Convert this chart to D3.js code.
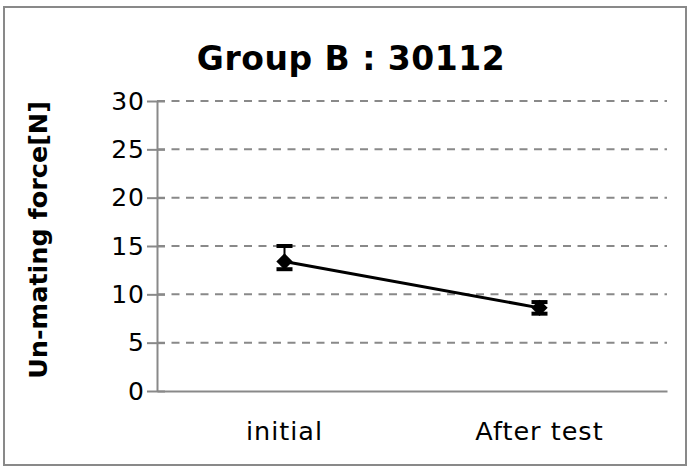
<!DOCTYPE html>
<html>
<head>
<meta charset="utf-8">
<script src="https://cdn.jsdelivr.net/npm/d3@7"></script>
<style>
  body { margin: 0; background: #fff; }
  svg text { font-family: 'DejaVu Sans', Verdana, sans-serif; }
  .axis path, .axis line { stroke: #898989; stroke-width: 2; }
  .grid line { stroke: #898989; stroke-width: 2; stroke-dasharray: 8,6.5; }
</style>
</head>
<body>
<svg id="chart" width="689" height="468"></svg>
<script>
const categories = ['initial', 'After test'];
const means = [13.4, 8.6];
const lows = [12.6, 8.0];
const highs = [15.0, 9.2];
const yTicks = [0, 5, 10, 15, 20, 25, 30];

const margin = { top: 101, right: 22, bottom: 77, left: 157 };
const width = 689 - margin.left - margin.right;
const height = 468 - margin.top - margin.bottom;

const root = d3.select('#chart');

root.append('rect')
  .attr('x', 4).attr('y', 7)
  .attr('width', 682).attr('height', 458)
  .attr('fill', 'none')
  .attr('stroke', '#898989')
  .attr('stroke-width', 2);

root.append('text')
  .attr('x', 351).attr('y', 70)
  .attr('text-anchor', 'middle')
  .style('font-weight', 'bold')
  .style('font-size', '33px')
  .style('letter-spacing', '0.5px')
  .text('Group B : 30112');

root.append('text')
  .attr('transform', 'translate(47, 240) rotate(-90)')
  .attr('text-anchor', 'middle')
  .style('font-weight', 'bold')
  .style('font-size', '25.5px')
  .text('Un-mating force[N]');

const svg = root.append('g')
  .attr('transform', `translate(${margin.left}, ${margin.top})`);

const xScale = d3.scaleBand()
  .domain(categories)
  .range([0, width]);
const yScale = d3.scaleLinear()
  .domain([0, 30])
  .range([height, 0]);

// dashed gridlines
svg.append('g')
  .attr('class', 'grid')
  .selectAll('line')
  .data(yTicks.filter(d => d > 0))
  .enter().append('line')
  .attr('x1', 0).attr('x2', width)
  .attr('y1', d => yScale(d)).attr('y2', d => yScale(d));

const axisY = d3.axisLeft(yScale)
  .tickValues(yTicks)
  .tickSizeInner(10)
  .tickSizeOuter(0)
  .tickPadding(3);

const gy = svg.append('g')
  .attr('class', 'y axis')
  .call(axisY)
  .attr('font-family', null);
gy.selectAll('.tick line').attr('x2', 8).attr('x1', -10);
gy.selectAll('text')
  .style('font-size', '25px')
  .style('letter-spacing', '1px')
  .style('fill', '#000')
  .attr('x', -12);

const gx = svg.append('g')
  .attr('class', 'x axis')
  .attr('transform', `translate(0, ${height})`)
  .call(d3.axisBottom(xScale).tickSize(0).tickPadding(31))
  .attr('font-family', null);
gx.selectAll('text')
  .style('font-size', '25.5px')
  .style('letter-spacing', '1px')
  .style('fill', '#000');

const cx = d => xScale(d) + xScale.bandwidth() / 2;

// error bars
const eb = svg.append('g').attr('class', 'errors');
categories.forEach((c, i) => {
  eb.append('line')
    .attr('x1', cx(c)).attr('x2', cx(c))
    .attr('y1', yScale(lows[i])).attr('y2', yScale(highs[i]))
    .attr('stroke', '#000').attr('stroke-width', 2);
  [lows[i], highs[i]].forEach(v => {
    eb.append('line')
      .attr('x1', cx(c) - 8).attr('x2', cx(c) + 8)
      .attr('y1', yScale(v)).attr('y2', yScale(v))
      .attr('stroke', '#000').attr('stroke-width', 4);
  });
});

const line = d3.line()
  .x((d, i) => cx(categories[i]))
  .y(d => yScale(d));

svg.append('path')
  .datum(means)
  .attr('d', line)
  .attr('fill', 'none')
  .attr('stroke', '#000')
  .attr('stroke-width', 3);

svg.selectAll('.marker')
  .data(means)
  .enter().append('path')
  .attr('class', 'marker')
  .attr('d', d3.symbol().type(d3.symbolDiamond2).size(170))
  .attr('transform', (d, i) => `translate(${cx(categories[i])}, ${yScale(d)})`)
  .attr('fill', '#000');
</script>
</body>
</html>
